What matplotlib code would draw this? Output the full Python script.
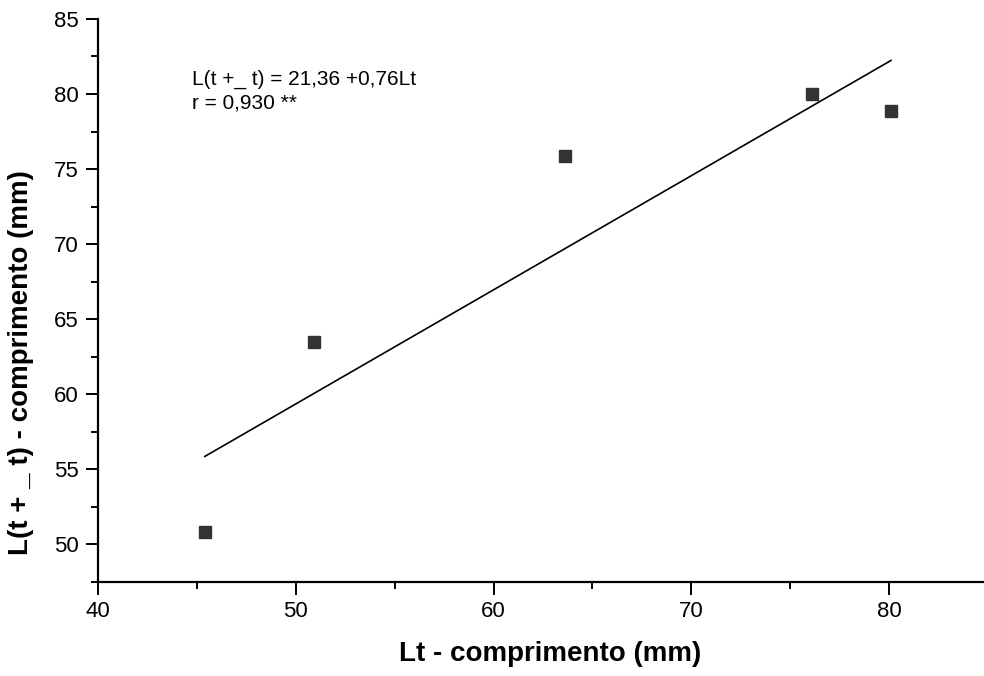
import numpy as np
import matplotlib
import matplotlib.pyplot as plt
from matplotlib.ticker import MultipleLocator

matplotlib.use("Agg")

plt.rcParams["font.family"] = ["Liberation Sans", "DejaVu Sans"]

# dados
lt = [45.4, 50.9, 63.6, 76.1, 80.1]
lt_dt = [50.8, 63.5, 75.9, 80.0, 78.9]

# reta de regressão: L(t+_t) = 21,36 + 0,76 Lt
a = 21.36
b = 0.76
x_line = np.array([min(lt), max(lt)])
y_line = a + b * x_line

fig = plt.figure(figsize=(9.84, 6.76), dpi=100)
ax = fig.add_axes([0.0996, 0.139, 0.9004, 0.833])

ax.plot(lt, lt_dt, "s", color="#333333", markersize=8)
ax.plot(x_line, y_line, color="black", linewidth=1.2)

ax.set_xlim(40, 84.8)
ax.set_ylim(47.5, 85)
ax.xaxis.set_major_locator(MultipleLocator(10))
ax.xaxis.set_minor_locator(MultipleLocator(5))
ax.yaxis.set_major_locator(MultipleLocator(5))
ax.yaxis.set_minor_locator(MultipleLocator(2.5))

ax.spines["top"].set_visible(False)
ax.spines["right"].set_visible(False)
ax.spines["left"].set_linewidth(1.6)
ax.spines["bottom"].set_linewidth(1.6)
ax.tick_params(which="major", direction="out", length=9, width=1.4, labelsize=16, pad=5)
ax.tick_params(which="minor", direction="out", length=5, width=1.4)

ax.text(44.75, 80.2, "L(t +_ t) = 21,36 +0,76Lt\nr = 0,930 **", fontsize=15,
        linespacing=1.3, va="center", ha="left")

ax.set_xlabel("Lt - comprimento (mm)", fontsize=20, fontweight="bold")
ax.set_ylabel("L(t + _ t) - comprimento (mm)", fontsize=20, fontweight="bold")
ax.xaxis.set_label_coords(0.51, -0.105)
ax.yaxis.set_label_coords(-0.072, 0.39)

plt.savefig("out.png", dpi=100)
